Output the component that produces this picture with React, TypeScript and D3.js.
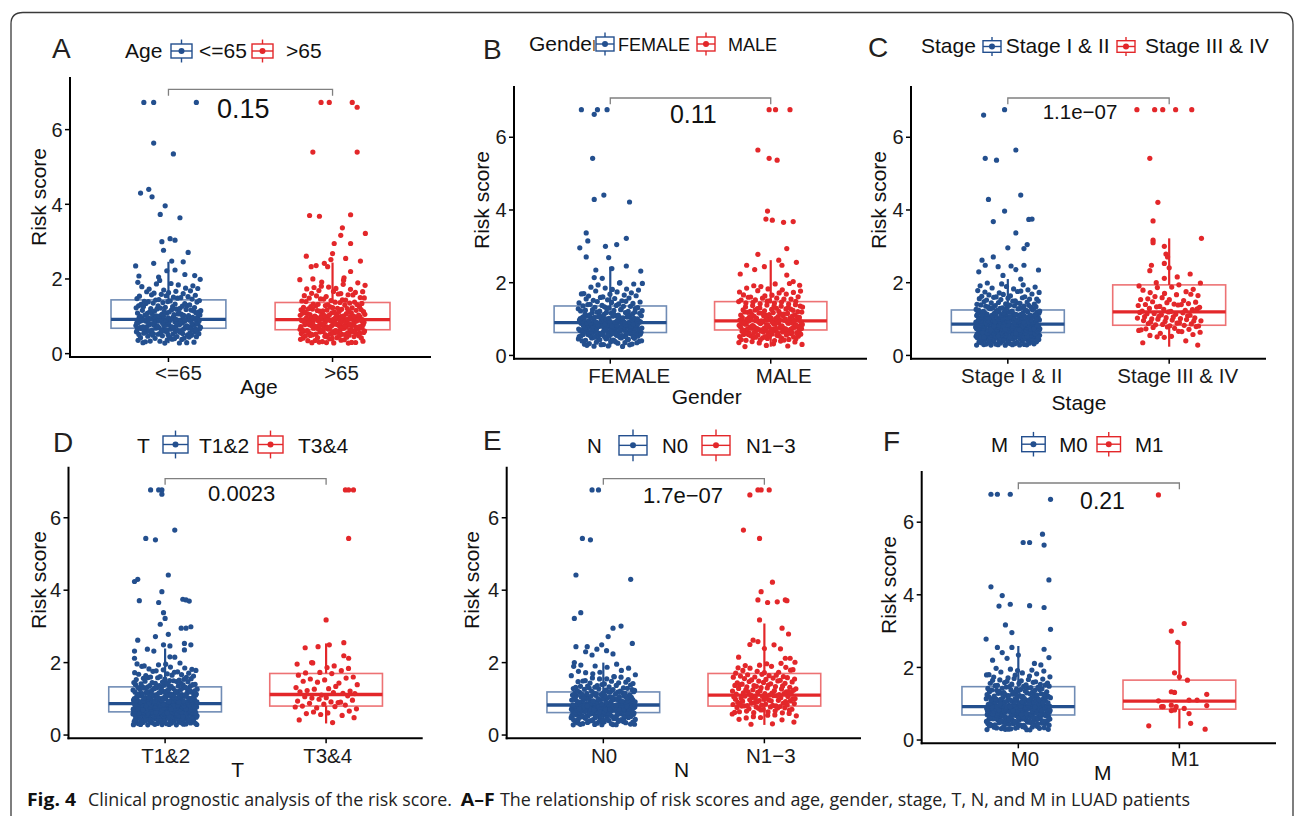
import React from "react";
import * as d3 from "d3";

// ---------------- DATA ----------------
const panelLetters = ["A", "B", "C", "D", "E", "F"];
const legendTitles = ["Age", "Gender", "Stage", "T", "N", "M"];
const groupLabels = [
  ["<=65", ">65"],
  ["FEMALE", "MALE"],
  ["Stage I & II", "Stage III & IV"],
  ["T1&2", "T3&4"],
  ["N0", "N1\u22123"],
  ["M0", "M1"],
];
const pValues = ["0.15", "0.11", "1.1e\u221207", "0.0023", "1.7e\u221207", "0.21"];
const yTicks = [0, 2, 4, 6];

// box stats per group: [whisker low, Q1, median, Q3, whisker high]
const boxA = [[0.28, 0.68, 0.92, 1.44, 2.46], [0.28, 0.64, 0.91, 1.37, 2.44]];
const boxB = [[0.24, 0.63, 0.90, 1.36, 2.44], [0.24, 0.70, 0.95, 1.48, 2.62]];
const boxC = [[0.28, 0.63, 0.86, 1.25, 2.10], [0.24, 0.83, 1.20, 1.94, 3.22]];
const boxD = [[0.28, 0.64, 0.87, 1.33, 2.39], [0.32, 0.80, 1.12, 1.70, 2.53]];
const boxE = [[0.28, 0.62, 0.83, 1.19, 2.00], [0.28, 0.80, 1.10, 1.70, 3.08]];
const boxF = [[0.28, 0.69, 0.92, 1.47, 2.59], [0.32, 0.85, 1.07, 1.65, 2.71]];

// individually readable points: [risk score, horizontal jitter in category units]
const highA0 = [[6.73,-0.15],[6.73,-0.09],[6.73,0.17],[5.64,-0.09],[5.35,0.03],[4.4,-0.12],[4.3,-0.17],[4.2,-0.1],[3.96,-0.02],[3.73,-0.05],[3.64,0.07],[3.08,0.01],[3.04,0.04],[3.0,-0.04],[2.77,-0.03],[2.71,0.12],[2.48,0.02],[2.46,0.09],[2.42,-0.09],[2.35,-0.2],[2.24,0.04],[2.22,-0.01],[2.09,0.16],[2.08,-0.18],[2.05,-0.06],[2.12,0.1]];
const highA1 = [[6.73,-0.07],[6.73,-0.02],[6.73,0.12],[6.6,0.15],[5.4,-0.12],[5.4,0.15],[3.72,0.11],[3.7,-0.14],[3.68,-0.08],[3.37,0.06],[3.22,0.2],[3.17,0.05],[2.95,0.01],[2.95,0.11],[2.68,0.0],[2.61,-0.16],[2.55,0.08],[2.52,-0.01],[2.48,0.17],[2.42,-0.05],[2.36,-0.1],[2.33,-0.13],[2.33,-0.03],[2.2,0.11],[2.03,0.07],[2.0,-0.12]];
const highB0 = [[6.76,-0.18],[6.63,-0.1],[6.76,-0.08],[6.76,-0.02],[5.42,-0.11],[4.41,-0.04],[4.29,-0.1],[4.22,0.12],[3.37,-0.15],[3.22,0.1],[3.15,-0.14],[3.05,0.04],[3.0,-0.03],[2.96,-0.19],[2.71,-0.15],[2.69,-0.01],[2.46,0.1],[2.39,0.01],[2.35,-0.09],[2.32,0.19],[2.14,-0.1],[2.12,-0.05],[2.0,0.06],[1.98,0.2]];
const highB1 = [[6.76,-0.01],[6.76,0.03],[6.76,0.12],[5.65,-0.08],[5.42,-0.01],[5.37,0.04],[3.97,-0.02],[3.75,-0.03],[3.72,0.01],[3.68,0.14],[3.66,0.08],[2.94,0.1],[2.78,-0.08],[2.62,0.05],[2.56,0.16],[2.48,-0.15],[2.48,0.07],[2.44,-0.04],[2.36,-0.1],[2.24,-0.19],[2.21,0.1],[2.03,0.14],[1.93,0.18]];
const highC0 = [[6.76,-0.02],[6.61,-0.15],[5.65,0.05],[5.42,-0.14],[5.37,-0.07],[4.41,0.08],[4.29,-0.12],[3.97,-0.02],[3.75,0.15],[3.74,0.13],[3.68,-0.09],[3.37,0.05],[3.05,0.12],[2.96,0.0],[2.94,0.1],[2.71,-0.09],[2.62,-0.16],[2.48,-0.14],[2.48,0.1],[2.46,0.02],[2.44,-0.06],[2.36,0.05],[2.35,0.19],[2.3,-0.18],[2.2,-0.03],[2.1,0.08]];
const highC1 = [[6.76,-0.2],[6.76,-0.09],[6.76,-0.04],[6.76,0.04],[6.76,0.14],[5.42,-0.12],[4.21,-0.07],[3.7,-0.1],[3.22,0.2],[3.17,-0.1],[3.1,-0.1],[3.0,-0.03],[2.79,-0.02],[2.71,-0.01],[2.53,-0.03],[2.48,-0.11],[2.41,0.0],[2.33,-0.12],[2.24,0.13],[2.16,0.05],[2.12,-0.03],[2.0,-0.08]];
const highD0 = [[6.77,-0.09],[6.77,-0.04],[6.77,-0.02],[6.65,-0.02],[5.66,0.06],[5.43,-0.12],[5.39,-0.06],[4.42,0.02],[4.3,-0.17],[4.24,-0.19],[3.96,-0.02],[3.75,0.11],[3.73,0.13],[3.71,-0.16],[3.7,0.15],[3.66,-0.04],[3.38,-0.01],[3.22,0.0],[3.06,-0.03],[2.99,0.16],[2.95,0.1],[2.95,0.13],[2.78,0.02],[2.72,-0.06],[2.62,-0.17],[2.53,0.12],[2.49,0.16],[2.49,-0.01],[2.46,0.03],[2.37,-0.11],[2.35,0.12],[2.32,-0.19],[2.32,-0.07],[2.16,0.03],[2.15,0.06],[2.12,-0.19]];
const highD1 = [[6.77,0.12],[6.77,0.14],[6.77,0.17],[5.43,0.14],[3.18,0.0],[2.55,0.11],[2.49,0.02],[2.44,-0.05],[2.41,-0.13],[2.19,0.11],[2.12,0.14],[2.0,-0.09],[1.96,-0.18]];
const highE0 = [[6.77,-0.07],[6.77,-0.03],[5.43,-0.13],[5.39,-0.08],[4.42,-0.17],[4.3,0.17],[3.38,-0.14],[3.22,-0.18],[3.01,0.11],[2.95,0.06],[2.72,0.03],[2.53,0.18],[2.49,-0.01],[2.44,-0.17],[2.44,-0.1],[2.37,-0.04],[2.33,0.02],[2.3,-0.11],[2.24,0.06],[2.21,-0.07],[2.0,-0.18]];
const highE1 = [[6.77,-0.04],[6.77,-0.02],[6.77,0.03],[6.63,-0.09],[5.66,-0.13],[5.43,-0.03],[4.22,0.05],[3.96,-0.02],[3.73,-0.04],[3.73,0.13],[3.71,0.14],[3.68,0.08],[3.66,0.02],[3.18,-0.03],[2.95,0.11],[2.79,0.15],[2.62,-0.07],[2.58,-0.04],[2.5,-0.09],[2.49,0.06],[2.39,0.0],[2.38,0.1],[2.15,-0.16],[2.12,0.13],[2.12,0.16],[2.01,0.19]];
const highF0 = [[6.77,-0.17],[6.77,-0.13],[6.77,-0.05],[6.63,0.2],[5.67,0.15],[5.44,0.03],[5.44,0.07],[5.37,0.16],[4.41,0.19],[4.22,-0.17],[3.98,-0.1],[3.74,-0.05],[3.7,0.07],[3.69,-0.12],[3.65,0.16],[3.17,-0.08],[3.05,0.2],[2.96,-0.04],[2.78,-0.2],[2.55,-0.13],[2.55,-0.04],[2.5,0.16],[2.41,-0.1],[2.34,0.0],[2.27,0.19],[2.25,-0.07],[2.2,-0.16],[2.11,0.1],[2.07,0.14]];
const highF1 = [[6.75,-0.13],[3.21,0.03],[3.0,-0.05],[2.69,-0.01],[1.85,-0.03],[1.74,0.0],[1.65,0.05],[1.33,-0.05],[1.31,-0.03],[1.26,0.17],[1.1,0.11],[1.1,0.06],[1.08,-0.13],[0.96,-0.05],[0.95,0.17],[0.92,-0.11],[0.92,-0.1],[0.92,-0.02],[0.87,0.03],[0.83,-0.03],[0.81,-0.05],[0.73,0.06],[0.46,0.07],[0.39,-0.19],[0.3,0.16]];

// dense cloud: counts of points per 0.1-wide score bin, starting at 0.2 (0.2-0.3, 0.3-0.4, ...)
const binsA0 = [4, 8, 12, 18, 22, 24, 22, 20, 16, 14, 12, 10, 9, 7, 6, 5, 4, 3];
const binsA1 = [5, 10, 14, 20, 24, 25, 23, 20, 17, 14, 12, 10, 8, 7, 6, 5, 4, 3];
const binsB0 = [6, 12, 16, 22, 26, 26, 24, 21, 18, 15, 12, 10, 8, 7, 6, 5, 4, 3];
const binsB1 = [3, 7, 11, 16, 20, 22, 21, 19, 16, 14, 12, 10, 9, 8, 6, 5, 4, 3];
const binsC0 = [8, 18, 26, 36, 42, 42, 38, 32, 26, 22, 18, 14, 11, 9, 7, 6, 5, 4];
const binsC1 = [1, 1, 2, 4, 5, 7, 8, 9, 9, 8, 7, 6, 6, 5, 4, 4, 3, 3];
const binsD0 = [9, 20, 28, 38, 44, 44, 40, 34, 28, 24, 20, 16, 12, 10, 8, 7, 6, 5];
const binsD1 = [0, 1, 2, 3, 3, 4, 5, 5, 4, 5, 4, 3, 3, 3, 3, 3, 2, 2];
const binsE0 = [7, 15, 22, 30, 34, 34, 30, 25, 20, 16, 13, 10, 8, 6, 5, 4, 3, 3];
const binsE1 = [1, 2, 4, 6, 9, 11, 13, 13, 12, 12, 11, 10, 9, 8, 7, 6, 5, 4];
const binsF0 = [6, 14, 20, 28, 32, 34, 32, 28, 24, 20, 17, 14, 12, 10, 8, 6, 5, 4];
const binsF1: number[] = [];

const boxStats = [boxA, boxB, boxC, boxD, boxE, boxF];
const highPoints = [[highA0, highA1], [highB0, highB1], [highC0, highC1], [highD0, highD1], [highE0, highE1], [highF0, highF1]];
const denseBins = [[binsA0, binsA1], [binsB0, binsB1], [binsC0, binsC1], [binsD0, binsD1], [binsE0, binsE1], [binsF0, binsF1]];

// caption pieces
const captionLabel = "Fig. 4";
const captionLead = "Clinical prognostic analysis of the risk score.";
const captionBold = "A\u2013F";
const captionRest = "The relationship of risk scores and age, gender, stage, T, N, and M in LUAD patients";

// ---------------- LAYOUT / STYLE ----------------
const BLUE = "#234F8E";
const RED = "#E3272A";
const COLORS = [BLUE, RED];
const FONT = "'Liberation Sans', Arial, Helvetica, sans-serif";
const CAP_FONT = "'Open Sans', 'Noto Sans', sans-serif";
const CAP_SX = 0.82; // horizontal condensing of the caption font

type Layout = {
  left: number; right: number; bottom: number; top: number;
  letter: [number, number];
  legTitle: [number, number]; keys: number[]; keyW: number; keyBox: [number, number];
  items: number[]; legTitleSize: number; legItemSize: number;
  p: [number, number]; pSize: number;
  xTickDx: number[]; xTickBase: number; xTitle: [number, number]; yTitle: [number, number];
};

const layouts: Layout[] = [
  { left: 70, right: 431, bottom: 357, top: 77, letter: [52, 58], legTitle: [125, 58], keys: [171, 252], keyW: 21, keyBox: [44, 58], items: [199, 286], legTitleSize: 21, legItemSize: 21, p: [243.3, 118.3], pSize: 27, xTickDx: [10, 9], xTickBase: 379.5, xTitle: [259, 394], yTitle: [38, 197] },
  { left: 514, right: 867, bottom: 358.7, top: 86, letter: [483, 59], legTitle: [529, 50.5], keys: [596, 697], keyW: 18, keyBox: [37, 51], items: [618, 728], legTitleSize: 21, legItemSize: 18, p: [693.3, 123.3], pSize: 25, xTickDx: [19, 13], xTickBase: 383.3, xTitle: [706.7, 404], yTitle: [481.7, 200] },
  { left: 911, right: 1266, bottom: 358.7, top: 86, letter: [868, 57], legTitle: [921, 52.7], keys: [983, 1117], keyW: 18, keyBox: [40.7, 52.3], items: [1005.7, 1145], legTitleSize: 21, legItemSize: 21, p: [1080, 119.3], pSize: 20.5, xTickDx: [4, 8.5], xTickBase: 383.3, xTitle: [1079, 410], yTitle: [878, 200] },
  { left: 68.5, right: 422.7, bottom: 738.3, top: 466.7, letter: [53, 451.7], legTitle: [137, 452.7], keys: [163, 258], keyW: 25, keyBox: [436, 453], items: [199, 298], legTitleSize: 21, legItemSize: 21, p: [241.7, 500.7], pSize: 22, xTickDx: [0.6, 1.6], xTickBase: 762.7, xTitle: [237.7, 776.7], yTitle: [38, 580] },
  { left: 506.7, right: 861, bottom: 738.3, top: 466.7, letter: [483, 450], legTitle: [587, 453.3], keys: [619, 702], keyW: 28, keyBox: [435.7, 455], items: [662, 746], legTitleSize: 20.5, legItemSize: 20.5, p: [683, 503.3], pSize: 22, xTickDx: [0.7, 6.4], xTickBase: 762.7, xTitle: [681.7, 776.7], yTitle: [471.7, 580] },
  { left: 921.7, right: 1276, bottom: 743.3, top: 471, letter: [883, 450.7], legTitle: [991, 451.7], keys: [1021.7, 1097], keyW: 23.5, keyBox: [436.7, 451.7], items: [1059.3, 1135], legTitleSize: 20.5, legItemSize: 20.5, p: [1102.5, 509.3], pSize: 23, xTickDx: [6.7, 5.7], xTickBase: 766, xTitle: [1102.7, 780], yTitle: [888.3, 585] },
];

// deterministic placement of binned points (Halton low-discrepancy sequence, bases 2 and 3)
function radicalInverse(n: number, base: number): number {
  let inv = 1 / base, f = inv, r = 0;
  while (n > 0) {
    r += (n % base) * f;
    n = Math.floor(n / base);
    f *= inv;
  }
  return r;
}
function expandBins(bins: number[], low: number, seed: number): number[][] {
  const out: number[][] = [];
  let k = seed;
  bins.forEach((count, b) => {
    const lo = Math.max(0.2 + b * 0.1, low);
    const hi = 0.3 + b * 0.1;
    for (let i = 0; i < count; i++) {
      k += 1;
      const v = lo + (hi - lo) * radicalInverse(k, 2);
      const j = (radicalInverse(k, 3) - 0.5) * 0.4;
      out.push([v, j]);
    }
  });
  return out;
}

function Panel({ i }: { i: number }) {
  const L = layouts[i];
  const x = d3.scaleLinear().domain([0.4, 2.6]).range([L.left, L.right]);
  const y = d3.scaleLinear().domain([-0.09, 7.41]).range([L.bottom, L.top]);
  const hb = 0.35;
  const stats = boxStats[i];

  const groups = [0, 1].map((g) => {
    const dense = expandBins(denseBins[i][g], stats[g][0], 1 + i * 53 + g * 17);
    return [...dense, ...highPoints[i][g]];
  });

  const [kTop, kBot] = L.keyBox;
  const kMid = (kTop + kBot) / 2;
  const kExt = (kBot - kTop) * 0.32;

  return (
    <g>
      <text x={L.letter[0]} y={L.letter[1]} fontSize={28} fill="#231f20" fontFamily={FONT}>{panelLetters[i]}</text>

      <text x={L.legTitle[0]} y={L.legTitle[1]} fontSize={L.legTitleSize} fill="#111" fontFamily={FONT}>{legendTitles[i]}</text>
      {[0, 1].map((g) => {
        const kx = L.keys[g];
        const cx = kx + L.keyW / 2;
        return (
          <g key={"leg" + g}>
            <rect x={kx - 1.5} y={kTop - kExt - 1} width={L.keyW + 3} height={kBot - kTop + 2 * kExt + 2} fill="#fff" />
            <line x1={cx} x2={cx} y1={kTop - kExt} y2={kBot + kExt} stroke={COLORS[g]} strokeWidth={1.4} />
            <rect x={kx} y={kTop} width={L.keyW} height={kBot - kTop} fill="#fff" stroke={COLORS[g]} strokeWidth={1.4} />
            <line x1={kx} x2={kx + L.keyW} y1={kMid} y2={kMid} stroke={COLORS[g]} strokeWidth={1.4} />
            <circle cx={cx} cy={kMid} r={3} fill={COLORS[g]} />
            <text x={L.items[g]} y={L.legTitle[1]} fontSize={L.legItemSize} fill="#111" fontFamily={FONT}>{groupLabels[i][g]}</text>
          </g>
        );
      })}

      <line x1={L.left} x2={L.left} y1={L.top} y2={L.bottom + 1} stroke="#000" strokeWidth={2} />
      {yTicks.map((t) => (
        <g key={"yt" + t}>
          <line x1={L.left - 5} x2={L.left} y1={y(t)} y2={y(t)} stroke="#000" strokeWidth={1.5} />
          <text x={L.left - 7.5} y={y(t)} dy="0.36em" textAnchor="end" fontSize={20} fill="#1a1a1a" fontFamily={FONT}>{t}</text>
        </g>
      ))}
      <text transform={`translate(${L.yTitle[0]},${L.yTitle[1]}) rotate(-90)`} dy="0.36em" textAnchor="middle" fontSize={21} fill="#111" fontFamily={FONT}>Risk score</text>

      <line x1={L.left - 1} x2={L.right} y1={L.bottom} y2={L.bottom} stroke="#000" strokeWidth={2} />
      {[0, 1].map((g) => (
        <g key={"xt" + g}>
          <line x1={x(g + 1)} x2={x(g + 1)} y1={L.bottom} y2={L.bottom + 5} stroke="#000" strokeWidth={1.5} />
          <text x={x(g + 1) + L.xTickDx[g]} y={L.xTickBase} textAnchor="middle" fontSize={20.5} fill="#1a1a1a" fontFamily={FONT}>{groupLabels[i][g]}</text>
        </g>
      ))}
      <text x={L.xTitle[0]} y={L.xTitle[1]} textAnchor="middle" fontSize={21} fill="#111" fontFamily={FONT}>{legendTitles[i]}</text>

      {[0, 1].map((g) => {
        const [lo, q1, med, q3, hi] = stats[g];
        const c = g + 1;
        return (
          <g key={"box" + g}>
            <line x1={x(c)} x2={x(c)} y1={y(q3)} y2={y(hi)} stroke={COLORS[g]} strokeWidth={2.2} />
            <line x1={x(c)} x2={x(c)} y1={y(q1)} y2={y(lo)} stroke={COLORS[g]} strokeWidth={2.2} />
            <rect x={x(c - hb)} y={y(q3)} width={x(c + hb) - x(c - hb)} height={y(q1) - y(q3)} fill="none" stroke={COLORS[g]} strokeOpacity={0.65} strokeWidth={1.6} />
            <line x1={x(c - hb)} x2={x(c + hb)} y1={y(med)} y2={y(med)} stroke={COLORS[g]} strokeWidth={3.3} />
          </g>
        );
      })}

      {[0, 1].map((g) => (
        <g key={"pts" + g} fill={COLORS[g]}>
          {groups[g].map((p, k) => (
            <circle key={k} cx={x(g + 1 + p[1])} cy={y(p[0])} r={2.6} />
          ))}
        </g>
      ))}

      <path d={`M${x(1)},${y(6.91)} V${y(7.08)} H${x(2)} V${y(6.91)}`} fill="none" stroke="#808080" strokeWidth={1.3} />
      <text x={L.p[0]} y={L.p[1]} textAnchor="middle" fontSize={L.pSize} fill="#111" fontFamily={FONT}>{pValues[i]}</text>
    </g>
  );
}

function CaptionPiece({ x, w, bold, text }: { x: number; w: number; bold?: boolean; text: string }) {
  return (
    <text
      transform={`translate(${x},806) scale(${CAP_SX},1)`}
      fontSize={18.5}
      fontWeight={bold ? "bold" : "normal"}
      fill={bold ? "#111" : "#222"}
      fontFamily={CAP_FONT}
      textLength={w / CAP_SX}
      lengthAdjust="spacingAndGlyphs"
    >
      {text}
    </text>
  );
}

export default function App() {
  return (
    <svg width={1295} height={816} viewBox="0 0 1295 816" style={{ position: "absolute", left: 0, top: 0, background: "#fff" }}>
      <rect x={0} y={0} width={1295} height={816} fill="#fff" />
      <path d="M11,816 V24 Q11,12.5 23,12.5 H1281 Q1293,12.5 1293,24.5 V816" fill="none" stroke="#3a3a3a" strokeWidth={1.3} />
      {layouts.map((_, i) => (
        <Panel key={i} i={i} />
      ))}
      <CaptionPiece x={27} w={49} bold text={captionLabel} />
      <CaptionPiece x={88} w={364} text={captionLead} />
      <CaptionPiece x={460.7} w={34} bold text={captionBold} />
      <CaptionPiece x={500} w={690} text={captionRest} />
    </svg>
  );
}
